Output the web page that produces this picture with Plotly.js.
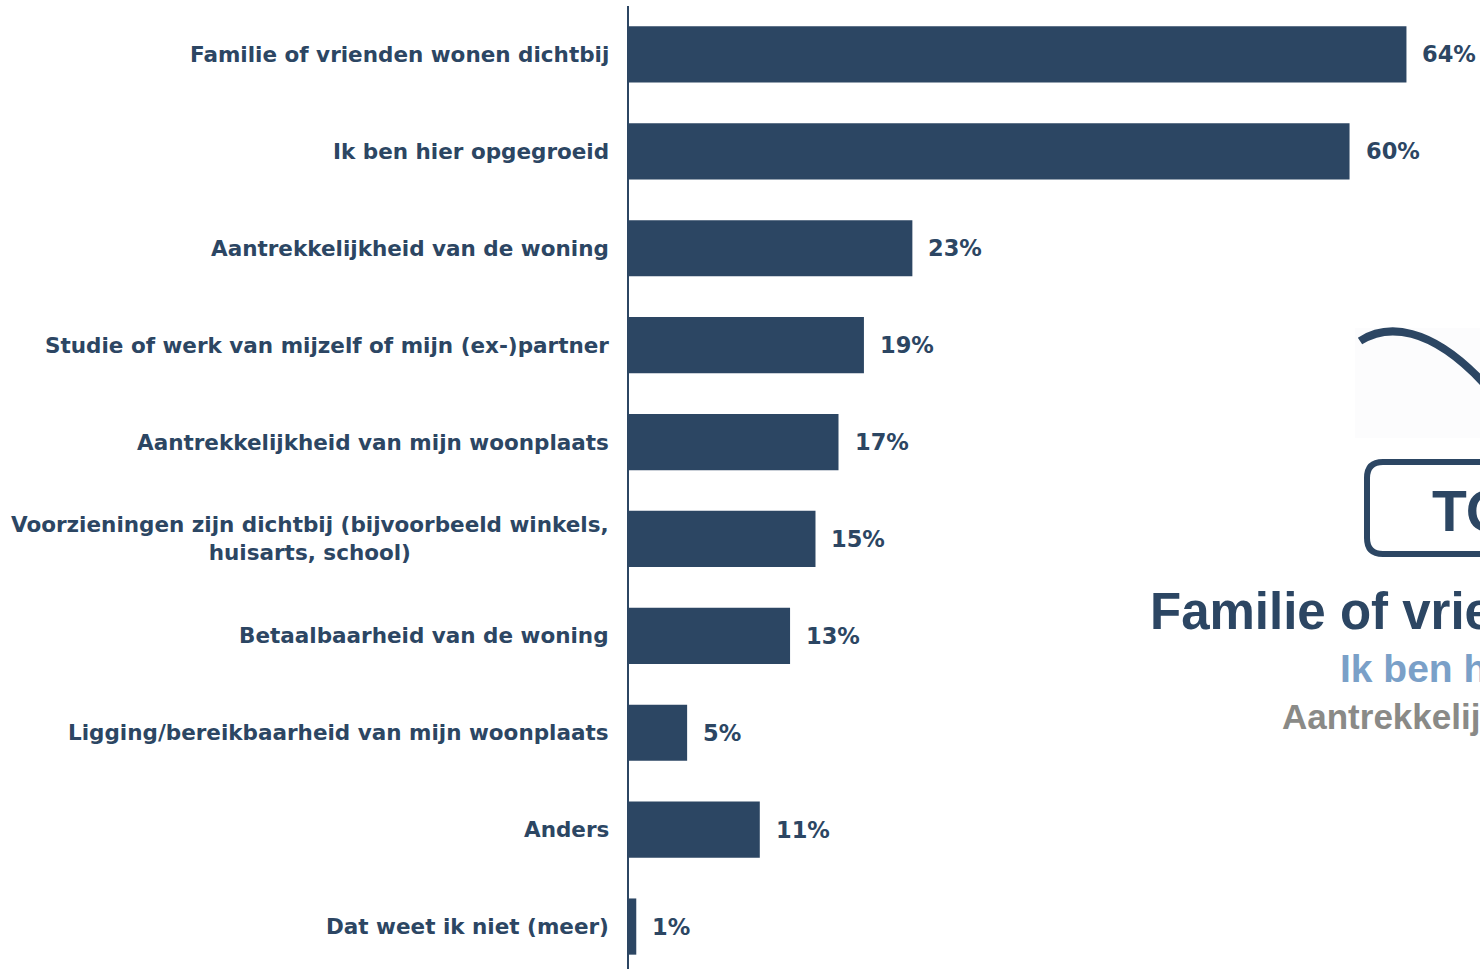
<!DOCTYPE html>
<html>
<head>
<meta charset="utf-8">
<script src="https://cdn.plot.ly/plotly-3.0.1.min.js"></script>
<style>
html,body{margin:0;padding:0;background:#fff;overflow:hidden;}
#chart{width:1480px;height:969px;}
</style>
</head>
<body>
<div id="chart"></div>
<script>
// Data
var categories = [
  "Familie of vrienden wonen dichtbij",
  "Ik ben hier opgegroeid",
  "Aantrekkelijkheid van de woning",
  "Studie of werk van mijzelf of mijn (ex-)partner",
  "Aantrekkelijkheid van mijn woonplaats",
  "Voorzieningen zijn dichtbij (bijvoorbeeld winkels,<br>huisarts, school)",
  "Betaalbaarheid van de woning",
  "Ligging/bereikbaarheid van mijn woonplaats",
  "Anders",
  "Dat weet ik niet (meer)"
];
// bar lengths (percent)
var values = [64.2, 59.5, 23.4, 19.4, 17.3, 15.4, 13.3, 4.8, 10.8, 0.6];
// printed value labels
var valueLabels = ["64%", "60%", "23%", "19%", "17%", "15%", "13%", "5%", "11%", "1%"];

var topTitle = "TOP 3";
var topItems = ["Familie of vrienden wonen dichtbij", "Ik ben hier opgegroeid", "Aantrekkelijkheid van de woning"];

var navy = "#2c4663";
var W = 1480, H = 969;
var M = {l: 629, r: 0, t: 6, b: 0};
var pw = W - M.l - M.r, ph = H - M.t - M.b;
function px(X){ return (X - M.l) / pw; }
function py(Y){ return 1 - (Y - M.t) / ph; }

var idx = categories.map(function(_, i){ return i; });

var trace = {
  type: "bar",
  orientation: "h",
  x: values,
  y: idx,
  width: 0.58,
  marker: {color: navy, line: {width: 0}},
  hoverinfo: "skip"
};

var annotations = [];
categories.forEach(function(c, i){
  annotations.push({
    xref: "paper", yref: "y", x: 0, y: i,
    xanchor: "right", yanchor: "middle",
    xshift: -18, text: c, showarrow: false, align: "center",
    font: {family: "DejaVu Sans", size: 21.5, color: navy, weight: "bold"}
  });
  annotations.push({
    xref: "x", yref: "y", x: values[i], y: i,
    xanchor: "left", yanchor: "middle",
    xshift: 14, text: valueLabels[i], showarrow: false,
    font: {family: "DejaVu Sans", size: 22.5, color: navy, weight: "bold"}
  });
});

// Right-side overlay (partly cut off at the page edge, as in the reference)
annotations.push({
  xref: "paper", yref: "paper", x: px(1430), y: py(511),
  xanchor: "left", yanchor: "middle", text: topTitle, showarrow: false,
  font: {family: "Liberation Sans", size: 57, color: navy, weight: "bold"}
});
annotations.push({
  xref: "paper", yref: "paper", x: px(1148), y: py(611),
  xanchor: "left", yanchor: "middle", text: topItems[0], showarrow: false,
  font: {family: "Liberation Sans", size: 51, color: navy, weight: "bold"}
});
annotations.push({
  xref: "paper", yref: "paper", x: px(1338), y: py(668),
  xanchor: "left", yanchor: "middle", text: topItems[1], showarrow: false,
  font: {family: "Liberation Sans", size: 39, color: "#7aa0c8", weight: "bold"}
});
annotations.push({
  xref: "paper", yref: "paper", x: px(1280), y: py(716),
  xanchor: "left", yanchor: "middle", text: topItems[2], showarrow: false,
  font: {family: "Liberation Sans", size: 35, color: "#8a8a87", weight: "bold"}
});

function P(X, Y){ return px(X) + "," + py(Y); }

var shapes = [
  {type: "rect", xref: "paper", yref: "paper", x0: px(1355), x1: px(1490), y0: py(328), y1: py(438),
   fillcolor: "#fcfcfd", line: {width: 0}, layer: "above"},
  {type: "path", xref: "paper", yref: "paper",
   path: "M" + P(1360, 341) + " C" + P(1385, 325) + " " + P(1430, 322) + " " + P(1490, 390),
   line: {color: navy, width: 8}, layer: "above"},
  {type: "path", xref: "paper", yref: "paper",
   path: "M" + P(1700, 462) + " L" + P(1383, 462) + " Q" + P(1367, 462) + " " + P(1367, 478) +
         " L" + P(1367, 538) + " Q" + P(1367, 554) + " " + P(1383, 554) + " L" + P(1700, 554),
   line: {color: navy, width: 6}, layer: "above"}
];

var layout = {
  width: W, height: H,
  margin: M,
  paper_bgcolor: "#fff", plot_bgcolor: "#fff",
  showlegend: false,
  xaxis: {range: [0, 851 / 12.11], showgrid: false, zeroline: false, showticklabels: false, showline: false, fixedrange: true},
  yaxis: {range: [9.438, -0.5], showgrid: false, zeroline: false, showticklabels: false,
          showline: true, linecolor: navy, linewidth: 2, ticks: "", fixedrange: true},
  annotations: annotations,
  shapes: shapes
};

Plotly.newPlot("chart", [trace], layout, {displayModeBar: false, staticPlot: true});
</script>
</body>
</html>
